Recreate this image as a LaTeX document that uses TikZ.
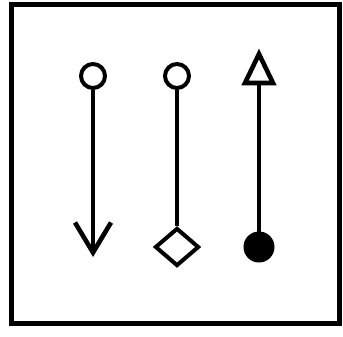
\documentclass[tikz,border=0pt]{standalone}
\usetikzlibrary{shapes.geometric,arrows.meta}
\begin{document}
\begin{tikzpicture}[x=1pt,y=1pt,
  stroke/.style={line width=4.6pt,black},
  hollowdot/.style={circle,draw,line width=4pt,minimum size=24pt,inner sep=0pt,fill=white},
  soliddot/.style={circle,draw,fill=black,line width=1pt,minimum size=30pt,inner sep=0pt},
  diamondbox/.style={diamond,draw,line width=4pt,minimum width=44pt,minimum height=38pt,inner sep=0pt,fill=white}]
\useasboundingbox (0,0) rectangle (343,-337);
\draw[line width=5pt] (11.5,-4.5) rectangle (339,-323.5);
% column 1
\node[hollowdot] (c1) at (93,-76) {};
\coordinate (tip1) at (93,-257);
\draw[stroke,-{Straight Barb[length=30pt,width=36pt,line width=4.6pt]}] (c1) -- (tip1);
% column 2
\node[hollowdot] (c2) at (177,-76) {};
\node[diamondbox] (d2) at (177,-247) {};
\draw[stroke] (c2) -- (d2);
% column 3
\node[soliddot] (f3) at (259,-247) {};
\coordinate (t3) at (259,-83);
\draw[line width=4.6pt,line join=miter] (245,-83) -- (259,-54) -- (273,-83) -- cycle;
\draw[stroke] (f3) -- (t3);
\end{tikzpicture}
\end{document}
